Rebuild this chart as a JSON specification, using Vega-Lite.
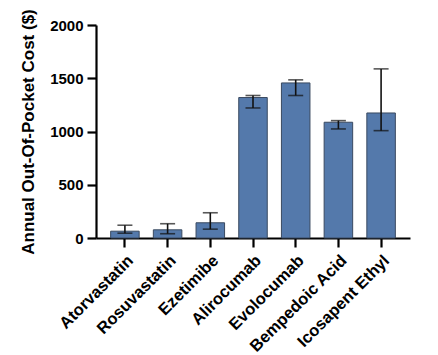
{
  "$schema": "https://vega.github.io/schema/vega-lite/v6.json",
  "autosize": {"type": "none"},
  "width": 314,
  "height": 213,
  "padding": {"left": 96, "top": 25, "right": 28, "bottom": 117},
  "background": "white",
  "data": {
    "values": [
      {"drug": "Atorvastatin", "cost": 64, "lo": 45, "hi": 120},
      {"drug": "Rosuvastatin", "cost": 77, "lo": 40, "hi": 134},
      {"drug": "Ezetimibe", "cost": 143, "lo": 83, "hi": 237},
      {"drug": "Alirocumab", "cost": 1319, "lo": 1221, "hi": 1338},
      {"drug": "Evolocumab", "cost": 1456, "lo": 1338, "hi": 1485},
      {"drug": "Bempedoic Acid", "cost": 1087, "lo": 1024, "hi": 1102},
      {"drug": "Icosapent Ethyl", "cost": 1174, "lo": 1008, "hi": 1588}
    ]
  },
  "encoding": {
    "x": {
      "field": "drug",
      "type": "nominal",
      "sort": null,
      "scale": {"paddingInner": 0.332, "paddingOuter": 0.343},
      "axis": {"title": null, "labelAngle": -45, "labelPadding": 5, "labelFontSize": 16.5}
    }
  },
  "layer": [
    {
      "mark": {"type": "bar", "fill": "#5479ab", "stroke": "#3a4a60", "strokeWidth": 1},
      "encoding": {
        "y": {
          "field": "cost",
          "type": "quantitative",
          "scale": {"domain": [0, 2000], "nice": false},
          "axis": {"title": "Annual Out-Of-Pocket Cost ($)", "values": [0, 500, 1000, 1500, 2000], "format": "d", "titlePadding": 12}
        }
      }
    },
    {
      "mark": {"type": "rule", "color": "#111111", "strokeWidth": 1.6},
      "encoding": {
        "y": {"field": "lo", "type": "quantitative"},
        "y2": {"field": "hi"}
      }
    },
    {
      "mark": {"type": "tick", "color": "#111111", "size": 15, "thickness": 1.6},
      "encoding": {"y": {"field": "lo", "type": "quantitative"}}
    },
    {
      "mark": {"type": "tick", "color": "#111111", "size": 15, "thickness": 1.6},
      "encoding": {"y": {"field": "hi", "type": "quantitative"}}
    }
  ],
  "config": {
    "view": {"stroke": null},
    "font": "Liberation Sans",
    "axis": {
      "grid": false,
      "domainColor": "#000000",
      "domainWidth": 2.2,
      "tickColor": "#000000",
      "tickWidth": 2.2,
      "tickSize": 9,
      "labelFont": "Liberation Sans",
      "labelFontWeight": "bold",
      "labelFontSize": 15,
      "labelColor": "#000000",
      "titleFont": "Liberation Sans",
      "titleFontWeight": "bold",
      "titleFontSize": 17,
      "titleColor": "#000000"
    },
    "axisY": {"labelPadding": 4}
  }
}
